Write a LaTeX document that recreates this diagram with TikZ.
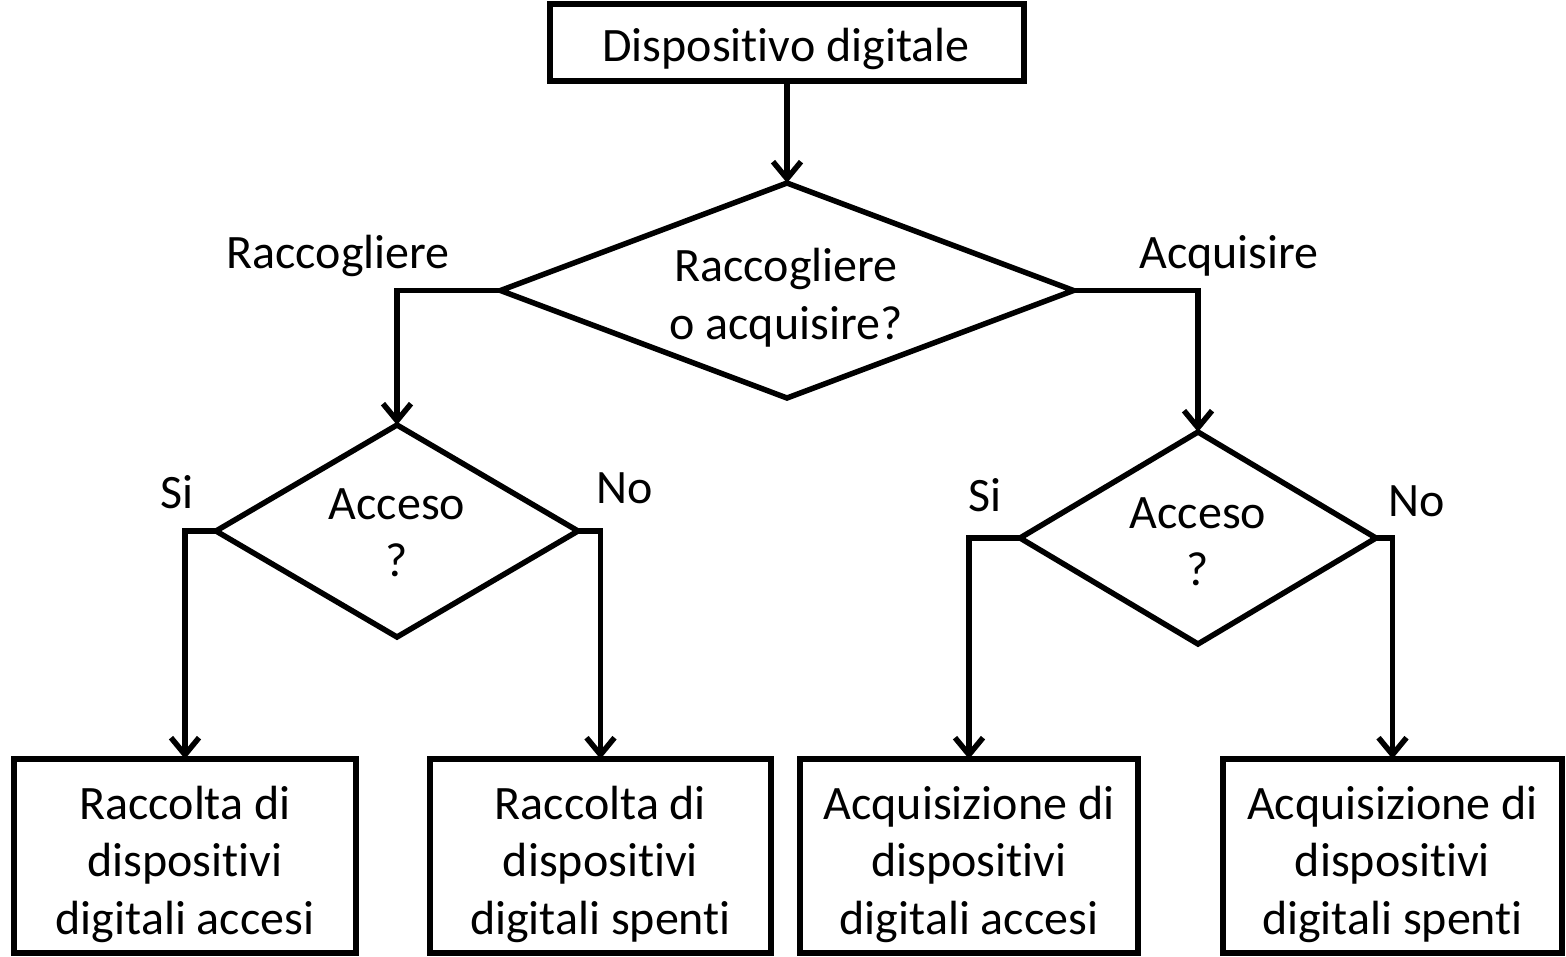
\documentclass[tikz,border=0pt]{standalone}
\usepackage{fontspec}
\setmainfont{Carlito}[Ligatures=CommonOff]
\usetikzlibrary{arrows.meta,shapes.geometric}

% uniform line height so text nodes centre on their baselines
\newcommand{\linestrut}{\rule[-12pt]{0pt}{52pt}}

\begin{document}
\begin{tikzpicture}[x=1pt,y=-1pt,
  every node/.style={font=\fontsize{48}{57.5}\selectfont},
  boxshape/.style={draw, line width=5.5pt, rectangle, inner sep=0pt, outer sep=0pt},
  decision/.style={draw, line width=5.5pt, diamond, inner sep=0pt, outer sep=0pt},
  txt/.style={align=center, inner sep=0pt,
    execute at begin node=\linestrut, execute at end node=\linestrut},
  flow/.style={line width=5.5pt, -{Straight Barb[length=17pt,width=28pt]}},
]
\useasboundingbox (0,0) rectangle (1566,956);

% start box
\node[boxshape, minimum width=474pt, minimum height=77pt] (start) at (787,42.5) {};
\node[txt] (startText) at (786,47) {Dispositivo digitale};

% main decision
\node[decision, minimum width=573pt, minimum height=215pt] (choice) at (787,290.5) {};
\node[txt] (choiceText) at (786,300) {Raccogliere\\o acquisire?};

% power-state decisions
\node[decision, minimum width=362pt, minimum height=212pt] (onL) at (397,531) {};
\node[txt] (onLText) at (397,538.5) {Acceso\\?};
\node[decision, minimum width=356pt, minimum height=212pt] (onR) at (1198,538) {};
\node[txt] (onRText) at (1198,547.5) {Acceso\\?};

% outcome boxes
\node[boxshape, minimum width=342pt, minimum height=194pt] (r1) at (185,856) {};
\node[txt] (r1Text) at (185,866) {Raccolta di\\dispositivi\\digitali accesi};
\node[boxshape, minimum width=341pt, minimum height=194pt] (r2) at (600.5,856) {};
\node[txt] (r2Text) at (600.5,866) {Raccolta di\\dispositivi\\digitali spenti};
\node[boxshape, minimum width=338pt, minimum height=194pt] (a1) at (969,856) {};
\node[txt] (a1Text) at (969,866) {Acquisizione di\\dispositivi\\digitali accesi};
\node[boxshape, minimum width=339pt, minimum height=194pt] (a2) at (1392.5,856) {};
\node[txt] (a2Text) at (1392.5,866) {Acquisizione di\\dispositivi\\digitali spenti};

% branch labels
\node[txt] (lblRacc) at (338,254) {Raccogliere};
\node[txt] (lblAcq) at (1229,254) {Acquisire};
\node[txt] (lblSiL) at (177,494) {Si};
\node[txt] (lblNoL) at (625,489) {No};
\node[txt] (lblSiR) at (985,497) {Si};
\node[txt] (lblNoR) at (1417,502) {No};

% connectors
\draw[flow] (start.south) -- (choice.north);
\draw[flow] (choice.west) -| (onL.north);
\draw[flow] (choice.east) -| (onR.north);
\draw[flow] (onL.west) -| (r1.north);
\draw[flow] (onL.east) -| (r2.north);
\draw[flow] (onR.west) -| (a1.north);
\draw[flow] (onR.east) -| (a2.north);
\end{tikzpicture}
\end{document}
